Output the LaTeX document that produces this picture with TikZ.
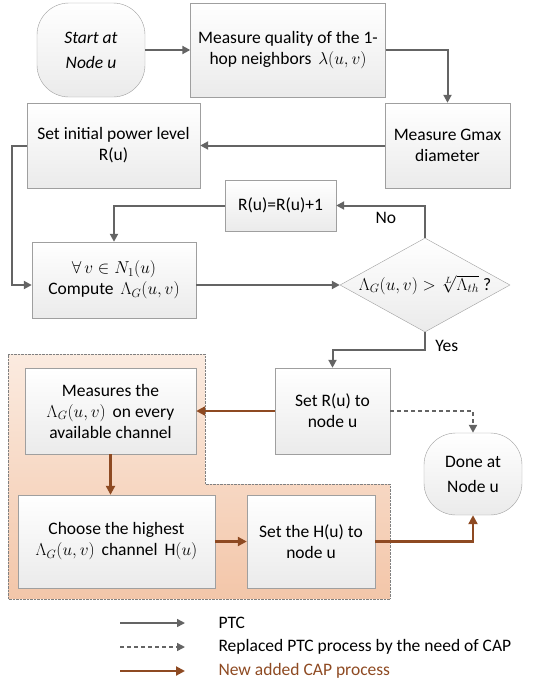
\documentclass[tikz,border=0pt]{standalone}
\usepackage{fontspec}
\setmainfont{Carlito}
\usetikzlibrary{arrows.meta,shapes.geometric}
\definecolor{linegray}{HTML}{646464}
\definecolor{capbrown}{HTML}{8E4A22}
\definecolor{captop}{HTML}{FBEBE0}
\definecolor{capbot}{HTML}{F3C6A9}
\tikzset{
  box/.style={draw=gray!75,top color=white,bottom color=gray!16,align=center,inner sep=2pt},
  term/.style={box,rounded corners=32pt},
  ptc/.style={linegray,line width=2pt,-{Triangle[length=8pt,width=8pt]}},
  rep/.style={ptc,dash pattern=on 4pt off 3pt},
  capline/.style={capbrown,line width=2.6pt,-{Triangle[length=9pt,width=9pt]}}
}
\begin{document}
\begin{tikzpicture}[x=1pt,y=-1pt,font=\fontsize{17.5}{21}\selectfont]
      \useasboundingbox (0,0) rectangle (543,683);
      % CAP region
      \path[draw=gray,densely dotted,top color=captop,bottom color=capbot]
        (8,354) -- (205,354) -- (205,484) -- (390,484) -- (390,599) -- (8,599) -- cycle;

      \node [term,minimum width=108pt,minimum height=94pt,font=\fontsize{17.5}{25}\selectfont\itshape] (1) at (91,50) {Start at\\Node u};
      \node [box,minimum width=195pt,minimum height=94pt] (2) at (288,50) {Measure quality of the 1-\\hop neighbors\, $\lambda(u,v)$};
      \node [box,minimum width=125pt,minimum height=85pt] (3) at (447.5,145.5) {Measure Gmax\\diameter};
      \node [box,minimum width=173pt,minimum height=85pt] (4) at (113.5,145.5) {Set initial power level\\R(u)};
      \node [box,minimum width=111pt,minimum height=51pt] (5) at (280.5,205.5) {R(u)=R(u)+1};
      \node [box,minimum width=164pt,minimum height=76pt] (7) at (114,280) {$\forall\, v \in N_1(u)$\\Compute\, $\Lambda_G(u,v)$};
      \node [diamond,draw=gray!75,top color=white,bottom color=gray!16,inner sep=0pt,
             minimum width=170pt,minimum height=94pt,
             label=center:{$\Lambda_G(u,v) > \sqrt[L]{\Lambda_{th}}$ ?}] (6) at (425,285) {};
      \node [box,minimum width=115pt,minimum height=86pt] (8) at (332.5,411) {Set R(u) to\\node u};
      \node [box,minimum width=171pt,minimum height=86pt] (9) at (110.5,411) {Measures the\\$\Lambda_G(u,v)$\, on every\\available channel};
      \node [term,minimum width=98pt,minimum height=82pt,font=\fontsize{17.5}{25}\selectfont] (10) at (473,474) {Done at\\Node u};
      \node [box,minimum width=197pt,minimum height=93pt] (11) at (116.5,541.5) {Choose the highest\\$\Lambda_G(u,v)$\, channel\, $\mathrm{H}(u)$};
      \node [box,minimum width=128pt,minimum height=93pt] (12) at (311,541.5) {Set the H(u) to\\node u};

      \draw[ptc] (1) -- (2);
      \draw[ptc] (2) -| (3);
      \draw[ptc] (3) -- (4);
      \draw[ptc] (4.west) -- ++(-15,0) |- (7.west |- 6);
      \draw[ptc] (7.east |- 6) -- (6);
      \draw[ptc] (6.north) |- node[pos=0.72,below,yshift=-2pt,text=black] {No} (5);
      \draw[ptc] (5) -| (7);
      \draw[ptc] (6.south) -- ++(0,18) node[pos=0.75,right,xshift=6pt,text=black] {Yes} -| (8);
      \draw[rep] (8) -| (10);
      \draw[capline] (8) -- (9);
      \draw[capline] (9.south) -- (9.south |- 11.north);
      \draw[capline] (11) -- (12);
      \draw[capline] (12) -| (10);

      % legend
      \coordinate (l1) at (120,623); \coordinate (r1) at (185,623);
      \coordinate (l2) at (120,647); \coordinate (r2) at (185,647);
      \coordinate (l3) at (120,671); \coordinate (r3) at (185,671);
      \node [anchor=west] (t1) at (215,623) {PTC};
      \node [anchor=west] (t2) at (215,647) {Replaced PTC process by the need of CAP};
      \node [anchor=west,text=capbrown] (t3) at (215,671) {New added CAP process};
      \draw[ptc,line width=1.5pt] (l1) -- (r1);
      \draw[rep,line width=1.5pt] (l2) -- (r2);
      \draw[capline,line width=2pt] (l3) -- (r3);
    \end{tikzpicture}
\end{document}
